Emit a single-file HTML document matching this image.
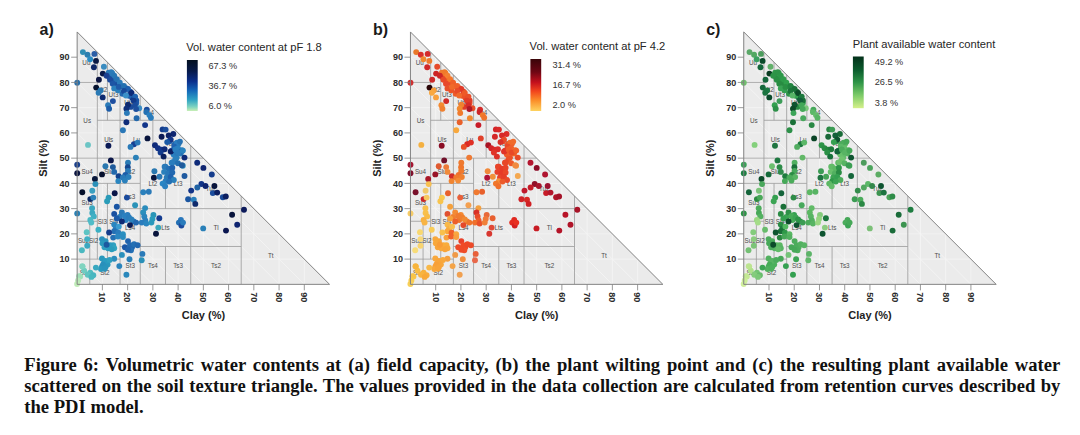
<!DOCTYPE html>
<html lang="en"><head><meta charset="utf-8"><title>Figure 6</title>
<style>
html,body{margin:0;padding:0;background:#fff;}
body{width:1080px;height:435px;overflow:hidden;position:relative;font-family:"Liberation Sans",Arial,sans-serif;}
svg{position:absolute;left:0;top:0;display:block;}
.cap{position:absolute;left:24.3px;top:353.7px;width:1036px;font-family:"Liberation Serif","Times New Roman",serif;font-weight:bold;font-size:18.6px;line-height:21px;color:#111;text-align:justify;white-space:nowrap;}
.cap .j{text-align:justify;text-align-last:justify;white-space:normal;}
</style></head><body>
<svg width="1080" height="435" viewBox="0 0 1080 435" font-family="'Liberation Sans', Arial, sans-serif">
<defs>
<clipPath id="tri"><polygon points="77.15,284.35 329.55,284.35 77.15,31.95"/></clipPath>
<linearGradient id="ga" x1="0" y1="0" x2="0" y2="1">
<stop offset="0" stop-color="#03101f"/><stop offset="0.22" stop-color="#071a4a"/><stop offset="0.42" stop-color="#0b2f8c"/><stop offset="0.6" stop-color="#1467b8"/><stop offset="0.78" stop-color="#2fa3c4"/><stop offset="0.92" stop-color="#7fd4c0"/><stop offset="1" stop-color="#c9efb5"/></linearGradient>
<linearGradient id="gb" x1="0" y1="0" x2="0" y2="1">
<stop offset="0" stop-color="#3a0509"/><stop offset="0.25" stop-color="#6e0614"/><stop offset="0.45" stop-color="#c4101d"/><stop offset="0.62" stop-color="#f2451d"/><stop offset="0.8" stop-color="#fb8f2a"/><stop offset="1" stop-color="#fed35f"/></linearGradient>
<linearGradient id="gc" x1="0" y1="0" x2="0" y2="1">
<stop offset="0" stop-color="#03301a"/><stop offset="0.25" stop-color="#0a5a2c"/><stop offset="0.5" stop-color="#2e9447"/><stop offset="0.75" stop-color="#7ccb68"/><stop offset="1" stop-color="#d5f08a"/></linearGradient>
</defs>
<rect width="1080" height="435" fill="#fff"/>
<g transform="translate(0.00,0)">
<polygon points="77.15,284.35 329.55,284.35 77.15,31.95" fill="#ebebeb"/>
<g clip-path="url(#tri)">
<path d="M102.39,284.35V57.19M77.15,259.11H304.31M77.15,259.11L102.39,284.35M127.63,284.35V82.43M77.15,233.87H279.07M77.15,233.87L127.63,284.35M152.87,284.35V107.67M77.15,208.63H253.83M77.15,208.63L152.87,284.35M178.11,284.35V132.91M77.15,183.39H228.59M77.15,183.39L178.11,284.35M203.35,284.35V158.15M77.15,158.15H203.35M77.15,158.15L203.35,284.35M228.59,284.35V183.39M77.15,132.91H178.11M77.15,132.91L228.59,284.35M253.83,284.35V208.63M77.15,107.67H152.87M77.15,107.67L253.83,284.35M279.07,284.35V233.87M77.15,82.43H127.63M77.15,82.43L279.07,284.35M304.31,284.35V259.11M77.15,57.19H102.39M77.15,57.19L304.31,284.35" stroke="#f5f5f5" stroke-width="0.8" fill="none"/>
<path d="M77.15,82.43L97.34,82.43M77.15,158.15L203.35,158.15M77.15,183.39L140.25,183.39M77.15,221.25L97.34,221.25M77.15,259.11L120.06,259.11M97.34,120.29L165.49,120.29M120.06,208.63L241.21,208.63M120.06,246.49L241.21,246.49M89.77,284.35L89.77,221.25M97.34,259.11L97.34,52.14M107.44,259.11L107.44,183.39M107.44,120.29L107.44,62.24M120.06,284.35L120.06,74.86M140.25,284.35L140.25,158.15M140.25,120.29L140.25,95.05M152.87,158.15L152.87,120.29M165.49,284.35L165.49,246.49M165.49,208.63L165.49,158.15M190.73,284.35L190.73,145.53M241.21,284.35L241.21,196.01" stroke="#9a9a9a" stroke-width="0.8" fill="none"/>
</g>
<g font-size="6.3" fill="#4d4d4d" text-anchor="middle">
<text x="83.5" y="274.5">Ss</text>
<text x="83.5" y="243.0">Su2</text>
<text x="93.6" y="243.0">Sl2</text>
<text x="87.2" y="205.1">Su3</text>
<text x="87.2" y="173.6">Su4</text>
<text x="87.2" y="123.1">Us</text>
<text x="86.4" y="64.6">Uu</text>
<text x="104.9" y="274.5">St2</text>
<text x="102.4" y="224.1">Sl3</text>
<text x="113.7" y="224.1">Sl4</text>
<text x="108.7" y="173.6">Slu</text>
<text x="108.7" y="142.0">Uls</text>
<text x="102.3" y="91.5">Ut2</text>
<text x="113.5" y="97.1">Ut3</text>
<text x="129.2" y="104.9">Ut4</text>
<text x="130.2" y="268.2">St3</text>
<text x="130.2" y="230.4">Ls4</text>
<text x="130.2" y="198.8">Ls3</text>
<text x="130.2" y="173.6">Ls2</text>
<text x="136.5" y="142.0">Lu</text>
<text x="148.7" y="114.7">Tu4</text>
<text x="170.5" y="145.8">Tu3</text>
<text x="152.9" y="186.2">Lt2</text>
<text x="178.1" y="186.2">Lt3</text>
<text x="165.5" y="230.4">Lts</text>
<text x="152.9" y="268.2">Ts4</text>
<text x="178.1" y="268.2">Ts3</text>
<text x="216.0" y="268.2">Ts2</text>
<text x="216.0" y="230.4">Tl</text>
<text x="211.0" y="191.1">Tu2</text>
<text x="270.7" y="257.7">Tt</text>
</g>
<g>
<circle cx="165.5" cy="166.8" r="2.95" fill="#2a7ab8"/>
<circle cx="182.8" cy="165.8" r="2.95" fill="#2a8cbc"/>
<circle cx="171.6" cy="162.7" r="2.95" fill="#2a84c0"/>
<circle cx="176.7" cy="157.6" r="2.95" fill="#2a80bc"/>
<circle cx="180.7" cy="153.5" r="2.95" fill="#2a7cbc"/>
<circle cx="173.6" cy="154.6" r="2.95" fill="#2a80c0"/>
<circle cx="178.7" cy="143.4" r="2.95" fill="#2a7ab8"/>
<circle cx="174.6" cy="144.4" r="2.95" fill="#2268b0"/>
<circle cx="169.5" cy="141.3" r="2.95" fill="#1f62ae"/>
<circle cx="132.0" cy="247.2" r="2.95" fill="#1f62ae"/>
<circle cx="102.0" cy="266.6" r="2.95" fill="#2a90bc"/>
<circle cx="107.6" cy="264.6" r="2.95" fill="#2a98bc"/>
<circle cx="104.0" cy="263.0" r="2.95" fill="#2a94bc"/>
<circle cx="113.2" cy="245.2" r="2.95" fill="#30a0c0"/>
<circle cx="105.6" cy="241.1" r="2.95" fill="#2a94bc"/>
<circle cx="108.1" cy="248.3" r="2.95" fill="#2a9cc0"/>
<circle cx="127.5" cy="214.9" r="2.95" fill="#2a7cbc"/>
<circle cx="133.6" cy="221.5" r="2.95" fill="#2470b4"/>
<circle cx="125.9" cy="220.0" r="2.95" fill="#2a80c0"/>
<circle cx="119.8" cy="217.0" r="2.95" fill="#2a7ab8"/>
<circle cx="130.8" cy="106.9" r="2.95" fill="#1a4c9c"/>
<circle cx="136.3" cy="102.9" r="2.95" fill="#1f62b0"/>
<circle cx="132.2" cy="97.8" r="2.95" fill="#123a8a"/>
<circle cx="136.3" cy="100.4" r="2.95" fill="#1a55a6"/>
<circle cx="129.0" cy="95.7" r="2.95" fill="#1e5fae"/>
<circle cx="122.4" cy="93.7" r="2.95" fill="#2268b0"/>
<circle cx="130.2" cy="91.7" r="2.95" fill="#1a4c9c"/>
<circle cx="125.9" cy="88.2" r="2.95" fill="#1f62ae"/>
<circle cx="118.0" cy="90.2" r="2.95" fill="#2a80bc"/>
<circle cx="121.3" cy="86.2" r="2.95" fill="#2470b0"/>
<circle cx="115.9" cy="83.1" r="2.95" fill="#1a4c9c"/>
<circle cx="113.5" cy="80.5" r="2.95" fill="#1f5aa8"/>
<circle cx="109.6" cy="77.4" r="2.95" fill="#1d55a5"/>
<circle cx="112.2" cy="73.3" r="2.95" fill="#2a80bc"/>
<circle cx="108.6" cy="72.6" r="2.95" fill="#2a7ab8"/>
<circle cx="82.9" cy="52.1" r="2.95" fill="#2e8db3"/>
<circle cx="87.5" cy="54.8" r="2.95" fill="#2b7fb0"/>
<circle cx="90.1" cy="59.3" r="2.95" fill="#2a8cc4"/>
<circle cx="94.4" cy="53.9" r="2.95" fill="#2c5ea6"/>
<circle cx="96.0" cy="60.9" r="2.95" fill="#0a1a44"/>
<circle cx="93.9" cy="67.2" r="2.95" fill="#0e2766"/>
<circle cx="103.9" cy="66.7" r="2.95" fill="#3a8cc0"/>
<circle cx="102.8" cy="73.6" r="2.95" fill="#0a1a4a"/>
<circle cx="111.2" cy="72.3" r="2.95" fill="#2a7ab8"/>
<circle cx="98.9" cy="79.8" r="2.95" fill="#0a1440"/>
<circle cx="77.2" cy="82.8" r="2.95" fill="#2a6fa8"/>
<circle cx="96.2" cy="87.6" r="2.95" fill="#06122e"/>
<circle cx="100.5" cy="90.4" r="2.95" fill="#2a78b0"/>
<circle cx="98.6" cy="92.7" r="2.95" fill="#2a7ab5"/>
<circle cx="102.7" cy="97.4" r="2.95" fill="#0e2a70"/>
<circle cx="112.9" cy="101.1" r="2.95" fill="#1f4fa0"/>
<circle cx="108.1" cy="105.2" r="2.95" fill="#2a7ab8"/>
<circle cx="109.1" cy="108.8" r="2.95" fill="#1c5ca8"/>
<circle cx="106.6" cy="75.7" r="2.95" fill="#1a3f90"/>
<circle cx="114.2" cy="75.7" r="2.95" fill="#2877b5"/>
<circle cx="110.1" cy="79.8" r="2.95" fill="#1b4a9c"/>
<circle cx="116.8" cy="79.2" r="2.95" fill="#2672b2"/>
<circle cx="112.7" cy="83.8" r="2.95" fill="#1d55a5"/>
<circle cx="119.8" cy="82.8" r="2.95" fill="#2a7ab8"/>
<circle cx="114.2" cy="88.4" r="2.95" fill="#2a80bc"/>
<circle cx="118.8" cy="86.9" r="2.95" fill="#1f5aa8"/>
<circle cx="123.9" cy="85.9" r="2.95" fill="#2470b0"/>
<circle cx="128.0" cy="88.9" r="2.95" fill="#1e5fae"/>
<circle cx="123.9" cy="91.0" r="2.95" fill="#174a9a"/>
<circle cx="131.5" cy="93.0" r="2.95" fill="#0d2a78"/>
<circle cx="125.9" cy="95.5" r="2.95" fill="#3a90c8"/>
<circle cx="135.1" cy="96.6" r="2.95" fill="#1f62b0"/>
<circle cx="133.6" cy="100.6" r="2.95" fill="#123a8a"/>
<circle cx="128.0" cy="104.7" r="2.95" fill="#0e2a70"/>
<circle cx="135.1" cy="105.2" r="2.95" fill="#1a4c9c"/>
<circle cx="126.4" cy="108.8" r="2.95" fill="#10307a"/>
<circle cx="139.2" cy="108.3" r="2.95" fill="#3a8cc4"/>
<circle cx="146.8" cy="109.6" r="2.95" fill="#1a4a9a"/>
<circle cx="126.9" cy="113.1" r="2.95" fill="#2a7ab8"/>
<circle cx="136.1" cy="109.0" r="2.95" fill="#1c4f9e"/>
<circle cx="146.3" cy="112.1" r="2.95" fill="#2470b2"/>
<circle cx="149.4" cy="115.1" r="2.95" fill="#2a80c0"/>
<circle cx="150.9" cy="117.7" r="2.95" fill="#2a7cbc"/>
<circle cx="136.6" cy="118.2" r="2.95" fill="#2268ac"/>
<circle cx="126.4" cy="122.3" r="2.95" fill="#0f2c78"/>
<circle cx="145.1" cy="125.1" r="2.95" fill="#12358a"/>
<circle cx="122.9" cy="130.2" r="2.95" fill="#2a78b8"/>
<circle cx="162.6" cy="129.4" r="2.95" fill="#143c8c"/>
<circle cx="165.6" cy="129.6" r="2.95" fill="#1a4c9c"/>
<circle cx="173.3" cy="134.0" r="2.95" fill="#0e2570"/>
<circle cx="168.7" cy="135.5" r="2.95" fill="#0c2166"/>
<circle cx="161.6" cy="136.7" r="2.95" fill="#0b1a55"/>
<circle cx="147.5" cy="138.4" r="2.95" fill="#08143c"/>
<circle cx="170.7" cy="139.6" r="2.95" fill="#123488"/>
<circle cx="167.2" cy="142.1" r="2.95" fill="#1a5aa6"/>
<circle cx="88.0" cy="144.9" r="2.95" fill="#6cc5c5"/>
<circle cx="108.4" cy="145.7" r="2.95" fill="#0b1a55"/>
<circle cx="133.9" cy="144.2" r="2.95" fill="#153f94"/>
<circle cx="130.5" cy="146.9" r="2.95" fill="#2a7ab8"/>
<circle cx="137.6" cy="142.6" r="2.95" fill="#2a78b8"/>
<circle cx="155.0" cy="145.2" r="2.95" fill="#0e2a78"/>
<circle cx="158.0" cy="148.2" r="2.95" fill="#113084"/>
<circle cx="161.6" cy="149.8" r="2.95" fill="#12358a"/>
<circle cx="164.6" cy="149.2" r="2.95" fill="#0e2a78"/>
<circle cx="176.9" cy="142.6" r="2.95" fill="#2a7cc0"/>
<circle cx="179.9" cy="141.6" r="2.95" fill="#2672b4"/>
<circle cx="174.3" cy="146.7" r="2.95" fill="#1f62b0"/>
<circle cx="177.9" cy="148.2" r="2.95" fill="#2a80c0"/>
<circle cx="171.8" cy="150.8" r="2.95" fill="#1a55a6"/>
<circle cx="181.9" cy="150.3" r="2.95" fill="#2a7ab8"/>
<circle cx="135.9" cy="157.6" r="2.95" fill="#2a80b8"/>
<circle cx="110.9" cy="160.4" r="2.95" fill="#0b1648"/>
<circle cx="77.2" cy="164.8" r="2.95" fill="#1a3f8c"/>
<circle cx="128.0" cy="162.7" r="2.95" fill="#2a7ab4"/>
<circle cx="105.4" cy="166.3" r="2.95" fill="#2a78b0"/>
<circle cx="112.9" cy="167.1" r="2.95" fill="#1e5a9c"/>
<circle cx="127.8" cy="167.3" r="2.95" fill="#14478f"/>
<circle cx="114.2" cy="171.9" r="2.95" fill="#2268ac"/>
<circle cx="128.0" cy="170.9" r="2.95" fill="#2a7ab8"/>
<circle cx="77.2" cy="173.2" r="2.95" fill="#0a1440"/>
<circle cx="102.0" cy="174.4" r="2.95" fill="#06102e"/>
<circle cx="118.6" cy="176.3" r="2.95" fill="#10408c"/>
<circle cx="125.4" cy="175.0" r="2.95" fill="#1d5eaa"/>
<circle cx="122.9" cy="177.5" r="2.95" fill="#2a7ab8"/>
<circle cx="128.5" cy="177.0" r="2.95" fill="#2a80bc"/>
<circle cx="124.9" cy="180.6" r="2.95" fill="#2a80bc"/>
<circle cx="118.3" cy="181.1" r="2.95" fill="#2a86c0"/>
<circle cx="94.9" cy="179.0" r="2.95" fill="#07163a"/>
<circle cx="95.4" cy="184.1" r="2.95" fill="#2a90b8"/>
<circle cx="92.3" cy="190.7" r="2.95" fill="#3aa0c0"/>
<circle cx="82.3" cy="192.3" r="2.95" fill="#050f2a"/>
<circle cx="114.7" cy="193.3" r="2.95" fill="#0b1648"/>
<circle cx="154.4" cy="171.2" r="2.95" fill="#2a78b0"/>
<circle cx="153.9" cy="177.7" r="2.95" fill="#08143c"/>
<circle cx="159.5" cy="176.7" r="2.95" fill="#2a78b4"/>
<circle cx="164.6" cy="166.8" r="2.95" fill="#2a7ab8"/>
<circle cx="168.7" cy="168.8" r="2.95" fill="#2470b4"/>
<circle cx="172.3" cy="167.8" r="2.95" fill="#1f62ae"/>
<circle cx="164.1" cy="171.9" r="2.95" fill="#2a80bc"/>
<circle cx="168.2" cy="173.4" r="2.95" fill="#2a78b8"/>
<circle cx="172.3" cy="172.4" r="2.95" fill="#2268b0"/>
<circle cx="166.7" cy="177.5" r="2.95" fill="#2a7ab8"/>
<circle cx="170.7" cy="177.0" r="2.95" fill="#1f62ae"/>
<circle cx="173.8" cy="180.0" r="2.95" fill="#2a80bc"/>
<circle cx="165.6" cy="181.1" r="2.95" fill="#2a7cbc"/>
<circle cx="162.6" cy="183.6" r="2.95" fill="#2a86c4"/>
<circle cx="165.1" cy="186.2" r="2.95" fill="#2a80c0"/>
<circle cx="169.2" cy="181.6" r="2.95" fill="#2470b4"/>
<circle cx="160.6" cy="152.5" r="2.95" fill="#123a8c"/>
<circle cx="163.6" cy="156.6" r="2.95" fill="#0b1f5c"/>
<circle cx="170.7" cy="151.5" r="2.95" fill="#0c2166"/>
<circle cx="176.9" cy="153.1" r="2.95" fill="#2a7ab8"/>
<circle cx="180.9" cy="152.0" r="2.95" fill="#2470b4"/>
<circle cx="184.5" cy="157.6" r="2.95" fill="#0e2a78"/>
<circle cx="175.3" cy="159.2" r="2.95" fill="#2a80bc"/>
<circle cx="172.8" cy="162.2" r="2.95" fill="#2a7cbc"/>
<circle cx="177.9" cy="163.2" r="2.95" fill="#2470b0"/>
<circle cx="181.9" cy="165.3" r="2.95" fill="#1f5a9c"/>
<circle cx="184.5" cy="176.0" r="2.95" fill="#1f5aa0"/>
<circle cx="143.2" cy="192.3" r="2.95" fill="#2a80bc"/>
<circle cx="148.8" cy="191.8" r="2.95" fill="#2a7ab8"/>
<circle cx="90.3" cy="199.1" r="2.95" fill="#0d2a66"/>
<circle cx="93.3" cy="197.6" r="2.95" fill="#2a80b8"/>
<circle cx="126.9" cy="197.6" r="2.95" fill="#1a4a9c"/>
<circle cx="108.6" cy="197.6" r="2.95" fill="#2a9ab8"/>
<circle cx="107.1" cy="201.2" r="2.95" fill="#2a9cb8"/>
<circle cx="135.1" cy="205.2" r="2.95" fill="#2a92b8"/>
<circle cx="116.8" cy="206.8" r="2.95" fill="#1a55a4"/>
<circle cx="145.1" cy="208.1" r="2.95" fill="#2a8cbc"/>
<circle cx="92.1" cy="208.3" r="2.95" fill="#3aa8c0"/>
<circle cx="77.2" cy="213.4" r="2.95" fill="#2a80b4"/>
<circle cx="92.3" cy="212.9" r="2.95" fill="#3aa8c0"/>
<circle cx="93.8" cy="216.4" r="2.95" fill="#40b0c4"/>
<circle cx="90.3" cy="220.0" r="2.95" fill="#4ab8c4"/>
<circle cx="91.3" cy="222.6" r="2.95" fill="#50bcc8"/>
<circle cx="114.2" cy="213.9" r="2.95" fill="#1a50a0"/>
<circle cx="121.9" cy="212.4" r="2.95" fill="#2a7ab8"/>
<circle cx="124.9" cy="215.9" r="2.95" fill="#2a80c0"/>
<circle cx="129.0" cy="217.5" r="2.95" fill="#2a7cbc"/>
<circle cx="116.8" cy="218.5" r="2.95" fill="#1c5aa8"/>
<circle cx="131.5" cy="219.5" r="2.95" fill="#2a80bc"/>
<circle cx="121.9" cy="221.5" r="2.95" fill="#0e2a74"/>
<circle cx="136.1" cy="222.6" r="2.95" fill="#2268b0"/>
<circle cx="130.0" cy="225.1" r="2.95" fill="#0a1a55"/>
<circle cx="143.2" cy="212.4" r="2.95" fill="#2a90bc"/>
<circle cx="144.3" cy="216.4" r="2.95" fill="#2a86bc"/>
<circle cx="145.3" cy="220.5" r="2.95" fill="#2a80bc"/>
<circle cx="141.7" cy="222.6" r="2.95" fill="#2a7cbc"/>
<circle cx="146.3" cy="223.6" r="2.95" fill="#2a86c0"/>
<circle cx="153.4" cy="214.9" r="2.95" fill="#2a96b8"/>
<circle cx="152.4" cy="219.0" r="2.95" fill="#2a9cbc"/>
<circle cx="151.4" cy="222.6" r="2.95" fill="#2a98bc"/>
<circle cx="159.3" cy="218.3" r="2.95" fill="#143c90"/>
<circle cx="158.3" cy="227.6" r="2.95" fill="#3aa8bc"/>
<circle cx="156.0" cy="233.8" r="2.95" fill="#08143c"/>
<circle cx="180.9" cy="220.0" r="2.95" fill="#2a78bc"/>
<circle cx="178.9" cy="222.6" r="2.95" fill="#2470b4"/>
<circle cx="181.4" cy="225.6" r="2.95" fill="#1a4a9c"/>
<circle cx="183.0" cy="222.6" r="2.95" fill="#2a7cbc"/>
<circle cx="114.2" cy="224.6" r="2.95" fill="#2a86c0"/>
<circle cx="115.7" cy="228.7" r="2.95" fill="#2a80c0"/>
<circle cx="118.8" cy="226.6" r="2.95" fill="#3a9cd0"/>
<circle cx="114.2" cy="231.2" r="2.95" fill="#2470b4"/>
<circle cx="109.1" cy="232.5" r="2.95" fill="#143c8c"/>
<circle cx="118.3" cy="232.7" r="2.95" fill="#2a7cbc"/>
<circle cx="122.9" cy="234.3" r="2.95" fill="#2a90c0"/>
<circle cx="98.4" cy="229.7" r="2.95" fill="#3ab0c4"/>
<circle cx="86.7" cy="232.2" r="2.95" fill="#5cc4c4"/>
<circle cx="113.2" cy="237.6" r="2.95" fill="#2470b4"/>
<circle cx="117.8" cy="236.5" r="2.95" fill="#2a86c0"/>
<circle cx="122.9" cy="237.1" r="2.95" fill="#2a8cc0"/>
<circle cx="102.0" cy="239.1" r="2.95" fill="#2a90bc"/>
<circle cx="87.2" cy="239.1" r="2.95" fill="#40b0c4"/>
<circle cx="87.2" cy="245.7" r="2.95" fill="#3aa8c0"/>
<circle cx="81.9" cy="250.3" r="2.95" fill="#4ab8c0"/>
<circle cx="102.5" cy="243.2" r="2.95" fill="#2a98bc"/>
<circle cx="104.5" cy="247.2" r="2.95" fill="#30a0c0"/>
<circle cx="110.1" cy="245.2" r="2.95" fill="#2a9cc0"/>
<circle cx="114.2" cy="248.3" r="2.95" fill="#30a4c0"/>
<circle cx="111.7" cy="249.3" r="2.95" fill="#2a9cbc"/>
<circle cx="106.6" cy="244.7" r="2.95" fill="#1c5aa0"/>
<circle cx="128.0" cy="241.1" r="2.95" fill="#1f62ae"/>
<circle cx="124.9" cy="247.2" r="2.95" fill="#1a55a6"/>
<circle cx="130.0" cy="245.2" r="2.95" fill="#2268b0"/>
<circle cx="134.1" cy="244.2" r="2.95" fill="#2470b4"/>
<circle cx="137.6" cy="245.2" r="2.95" fill="#2268b0"/>
<circle cx="131.0" cy="250.3" r="2.95" fill="#2470b4"/>
<circle cx="128.0" cy="249.8" r="2.95" fill="#1f62ae"/>
<circle cx="142.4" cy="253.9" r="2.95" fill="#2a7ab8"/>
<circle cx="121.9" cy="254.9" r="2.95" fill="#2a90bc"/>
<circle cx="129.5" cy="259.3" r="2.95" fill="#2a80b8"/>
<circle cx="141.7" cy="260.3" r="2.95" fill="#2a90b8"/>
<circle cx="114.2" cy="258.8" r="2.95" fill="#2a8cbc"/>
<circle cx="102.0" cy="258.4" r="2.95" fill="#2a98bc"/>
<circle cx="105.6" cy="261.0" r="2.95" fill="#2a9cc0"/>
<circle cx="109.6" cy="260.0" r="2.95" fill="#30a0c0"/>
<circle cx="103.0" cy="264.6" r="2.95" fill="#2a90bc"/>
<circle cx="105.6" cy="267.1" r="2.95" fill="#2a94bc"/>
<circle cx="101.0" cy="269.1" r="2.95" fill="#2a98bc"/>
<circle cx="95.9" cy="267.6" r="2.95" fill="#38a8c0"/>
<circle cx="119.3" cy="266.1" r="2.95" fill="#2a84bc"/>
<circle cx="126.4" cy="274.7" r="2.95" fill="#2a88bc"/>
<circle cx="82.6" cy="266.6" r="2.95" fill="#7cd4c0"/>
<circle cx="84.2" cy="270.7" r="2.95" fill="#70ccc0"/>
<circle cx="90.3" cy="272.7" r="2.95" fill="#50bcc0"/>
<circle cx="93.3" cy="275.2" r="2.95" fill="#48b4c0"/>
<circle cx="87.7" cy="274.7" r="2.95" fill="#60c4c0"/>
<circle cx="79.1" cy="276.3" r="2.95" fill="#a0e0b8"/>
<circle cx="82.2" cy="266.2" r="2.95" fill="#80d4c0"/>
<circle cx="80.2" cy="276.4" r="2.95" fill="#a0e0b8"/>
<circle cx="78.1" cy="280.4" r="2.95" fill="#b8e8b8"/>
<circle cx="77.1" cy="284.0" r="2.95" fill="#c0ecb8"/>
<circle cx="91.4" cy="276.9" r="2.95" fill="#48b8c0"/>
<circle cx="104.6" cy="268.7" r="2.95" fill="#2a94bc"/>
<circle cx="175.3" cy="149.5" r="2.95" fill="#2a80c0"/>
<circle cx="178.3" cy="152.6" r="2.95" fill="#2a7cbc"/>
<circle cx="182.9" cy="150.6" r="2.95" fill="#2a84c0"/>
<circle cx="197.2" cy="162.8" r="2.95" fill="#0e2a78"/>
<circle cx="203.4" cy="167.9" r="2.95" fill="#0e2470"/>
<circle cx="211.8" cy="174.5" r="2.95" fill="#143c8c"/>
<circle cx="201.4" cy="184.0" r="2.95" fill="#123488"/>
<circle cx="205.5" cy="186.0" r="2.95" fill="#0e2470"/>
<circle cx="197.3" cy="187.5" r="2.95" fill="#1f62a4"/>
<circle cx="214.4" cy="186.0" r="2.95" fill="#08143c"/>
<circle cx="191.2" cy="190.6" r="2.95" fill="#123488"/>
<circle cx="212.8" cy="193.1" r="2.95" fill="#1a4c9c"/>
<circle cx="217.2" cy="192.6" r="2.95" fill="#0c1f60"/>
<circle cx="222.8" cy="197.2" r="2.95" fill="#1a4a9a"/>
<circle cx="225.8" cy="196.5" r="2.95" fill="#0c1f60"/>
<circle cx="188.1" cy="199.2" r="2.95" fill="#1a55a0"/>
<circle cx="193.8" cy="199.8" r="2.95" fill="#2a80bc"/>
<circle cx="195.3" cy="203.9" r="2.95" fill="#0e2a6c"/>
<circle cx="244.0" cy="209.8" r="2.95" fill="#0c1a5a"/>
<circle cx="232.1" cy="214.8" r="2.95" fill="#08143c"/>
<circle cx="237.2" cy="224.7" r="2.95" fill="#0e2470"/>
<circle cx="226.0" cy="230.6" r="2.95" fill="#0a1650"/>
<circle cx="203.2" cy="228.4" r="2.95" fill="#2a80b8"/>
</g>
<polygon points="77.15,284.35 329.55,284.35 77.15,31.95" fill="none" stroke="#828282" stroke-width="1.0" stroke-linejoin="round"/>
<path d="M102.39,284.35v6M77.15,259.11h-6M127.63,284.35v6M77.15,233.87h-6M152.87,284.35v6M77.15,208.63h-6M178.11,284.35v6M77.15,183.39h-6M203.35,284.35v6M77.15,158.15h-6M228.59,284.35v6M77.15,132.91h-6M253.83,284.35v6M77.15,107.67h-6M279.07,284.35v6M77.15,82.43h-6M304.31,284.35v6M77.15,57.19h-6" stroke="#808080" stroke-width="0.8" fill="none"/>
<g font-size="9" font-weight="bold" fill="#2b2b2b">
<text x="69.6" y="262.3" text-anchor="end">10</text>
<text transform="translate(99.2,292.2) rotate(90)">10</text>
<text x="69.6" y="237.1" text-anchor="end">20</text>
<text transform="translate(124.4,292.2) rotate(90)">20</text>
<text x="69.6" y="211.8" text-anchor="end">30</text>
<text transform="translate(149.7,292.2) rotate(90)">30</text>
<text x="69.6" y="186.6" text-anchor="end">40</text>
<text transform="translate(174.9,292.2) rotate(90)">40</text>
<text x="69.6" y="161.4" text-anchor="end">50</text>
<text transform="translate(200.2,292.2) rotate(90)">50</text>
<text x="69.6" y="136.1" text-anchor="end">60</text>
<text transform="translate(225.4,292.2) rotate(90)">60</text>
<text x="69.6" y="110.9" text-anchor="end">70</text>
<text transform="translate(250.6,292.2) rotate(90)">70</text>
<text x="69.6" y="85.6" text-anchor="end">80</text>
<text transform="translate(275.9,292.2) rotate(90)">80</text>
<text x="69.6" y="60.4" text-anchor="end">90</text>
<text transform="translate(301.1,292.2) rotate(90)">90</text>
</g>
<text font-size="11" font-weight="bold" fill="#222" text-anchor="middle" transform="translate(47.3,158.2) rotate(-90)">Silt (%)</text>
<text font-size="11" font-weight="bold" fill="#222" text-anchor="middle" x="203.4" y="318.7">Clay (%)</text>
<text font-size="16" font-weight="bold" fill="#1a1a1a" x="39.6" y="35.2">a)</text>
</g>
<g transform="translate(333.30,0)">
<polygon points="77.15,284.35 329.55,284.35 77.15,31.95" fill="#ebebeb"/>
<g clip-path="url(#tri)">
<path d="M102.39,284.35V57.19M77.15,259.11H304.31M77.15,259.11L102.39,284.35M127.63,284.35V82.43M77.15,233.87H279.07M77.15,233.87L127.63,284.35M152.87,284.35V107.67M77.15,208.63H253.83M77.15,208.63L152.87,284.35M178.11,284.35V132.91M77.15,183.39H228.59M77.15,183.39L178.11,284.35M203.35,284.35V158.15M77.15,158.15H203.35M77.15,158.15L203.35,284.35M228.59,284.35V183.39M77.15,132.91H178.11M77.15,132.91L228.59,284.35M253.83,284.35V208.63M77.15,107.67H152.87M77.15,107.67L253.83,284.35M279.07,284.35V233.87M77.15,82.43H127.63M77.15,82.43L279.07,284.35M304.31,284.35V259.11M77.15,57.19H102.39M77.15,57.19L304.31,284.35" stroke="#f5f5f5" stroke-width="0.8" fill="none"/>
<path d="M77.15,82.43L97.34,82.43M77.15,158.15L203.35,158.15M77.15,183.39L140.25,183.39M77.15,221.25L97.34,221.25M77.15,259.11L120.06,259.11M97.34,120.29L165.49,120.29M120.06,208.63L241.21,208.63M120.06,246.49L241.21,246.49M89.77,284.35L89.77,221.25M97.34,259.11L97.34,52.14M107.44,259.11L107.44,183.39M107.44,120.29L107.44,62.24M120.06,284.35L120.06,74.86M140.25,284.35L140.25,158.15M140.25,120.29L140.25,95.05M152.87,158.15L152.87,120.29M165.49,284.35L165.49,246.49M165.49,208.63L165.49,158.15M190.73,284.35L190.73,145.53M241.21,284.35L241.21,196.01" stroke="#9a9a9a" stroke-width="0.8" fill="none"/>
</g>
<g font-size="6.3" fill="#4d4d4d" text-anchor="middle">
<text x="83.5" y="274.5">Ss</text>
<text x="83.5" y="243.0">Su2</text>
<text x="93.6" y="243.0">Sl2</text>
<text x="87.2" y="205.1">Su3</text>
<text x="87.2" y="173.6">Su4</text>
<text x="87.2" y="123.1">Us</text>
<text x="86.4" y="64.6">Uu</text>
<text x="104.9" y="274.5">St2</text>
<text x="102.4" y="224.1">Sl3</text>
<text x="113.7" y="224.1">Sl4</text>
<text x="108.7" y="173.6">Slu</text>
<text x="108.7" y="142.0">Uls</text>
<text x="102.3" y="91.5">Ut2</text>
<text x="113.5" y="97.1">Ut3</text>
<text x="129.2" y="104.9">Ut4</text>
<text x="130.2" y="268.2">St3</text>
<text x="130.2" y="230.4">Ls4</text>
<text x="130.2" y="198.8">Ls3</text>
<text x="130.2" y="173.6">Ls2</text>
<text x="136.5" y="142.0">Lu</text>
<text x="148.7" y="114.7">Tu4</text>
<text x="170.5" y="145.8">Tu3</text>
<text x="152.9" y="186.2">Lt2</text>
<text x="178.1" y="186.2">Lt3</text>
<text x="165.5" y="230.4">Lts</text>
<text x="152.9" y="268.2">Ts4</text>
<text x="178.1" y="268.2">Ts3</text>
<text x="216.0" y="268.2">Ts2</text>
<text x="216.0" y="230.4">Tl</text>
<text x="211.0" y="191.1">Tu2</text>
<text x="270.7" y="257.7">Tt</text>
</g>
<g>
<circle cx="165.5" cy="166.8" r="2.95" fill="#e8442a"/>
<circle cx="182.8" cy="165.8" r="2.95" fill="#f0903a"/>
<circle cx="171.6" cy="162.7" r="2.95" fill="#e84a28"/>
<circle cx="176.7" cy="157.6" r="2.95" fill="#ec5228"/>
<circle cx="180.7" cy="153.5" r="2.95" fill="#f0682a"/>
<circle cx="173.6" cy="154.6" r="2.95" fill="#ee5a2a"/>
<circle cx="178.7" cy="143.4" r="2.95" fill="#f0602a"/>
<circle cx="174.6" cy="144.4" r="2.95" fill="#ec5228"/>
<circle cx="169.5" cy="141.3" r="2.95" fill="#e84428"/>
<circle cx="132.0" cy="247.2" r="2.95" fill="#f04a26"/>
<circle cx="102.0" cy="266.6" r="2.95" fill="#f8a038"/>
<circle cx="107.6" cy="264.6" r="2.95" fill="#f8a83c"/>
<circle cx="104.0" cy="263.0" r="2.95" fill="#f8a43a"/>
<circle cx="113.2" cy="245.2" r="2.95" fill="#f8ac3c"/>
<circle cx="105.6" cy="241.1" r="2.95" fill="#f8a43a"/>
<circle cx="108.1" cy="248.3" r="2.95" fill="#f8a83c"/>
<circle cx="127.5" cy="214.9" r="2.95" fill="#f48a34"/>
<circle cx="133.6" cy="221.5" r="2.95" fill="#f07a30"/>
<circle cx="125.9" cy="220.0" r="2.95" fill="#ee742c"/>
<circle cx="119.8" cy="217.0" r="2.95" fill="#f08030"/>
<circle cx="130.8" cy="106.9" r="2.95" fill="#e03a28"/>
<circle cx="136.3" cy="102.9" r="2.95" fill="#e8502a"/>
<circle cx="132.2" cy="97.8" r="2.95" fill="#e84a28"/>
<circle cx="136.3" cy="100.4" r="2.95" fill="#e03c28"/>
<circle cx="129.0" cy="95.7" r="2.95" fill="#ec5228"/>
<circle cx="122.4" cy="93.7" r="2.95" fill="#ee5a28"/>
<circle cx="130.2" cy="91.7" r="2.95" fill="#e44028"/>
<circle cx="125.9" cy="88.2" r="2.95" fill="#e84a28"/>
<circle cx="118.0" cy="90.2" r="2.95" fill="#ec5228"/>
<circle cx="121.3" cy="86.2" r="2.95" fill="#f0682a"/>
<circle cx="115.9" cy="83.1" r="2.95" fill="#e8482a"/>
<circle cx="113.5" cy="80.5" r="2.95" fill="#ee5a28"/>
<circle cx="109.6" cy="77.4" r="2.95" fill="#e84a28"/>
<circle cx="112.2" cy="73.3" r="2.95" fill="#f4802e"/>
<circle cx="108.6" cy="72.6" r="2.95" fill="#f07a2c"/>
<circle cx="82.9" cy="52.1" r="2.95" fill="#e8782a"/>
<circle cx="87.5" cy="54.8" r="2.95" fill="#d8302a"/>
<circle cx="90.1" cy="59.3" r="2.95" fill="#f08a2e"/>
<circle cx="94.4" cy="53.9" r="2.95" fill="#d42a2a"/>
<circle cx="96.0" cy="60.9" r="2.95" fill="#ee7a2c"/>
<circle cx="93.9" cy="67.2" r="2.95" fill="#d02828"/>
<circle cx="103.9" cy="66.7" r="2.95" fill="#e64a2a"/>
<circle cx="102.8" cy="73.6" r="2.95" fill="#cc2424"/>
<circle cx="111.3" cy="72.3" r="2.95" fill="#f07a2a"/>
<circle cx="98.9" cy="79.8" r="2.95" fill="#cc2a2a"/>
<circle cx="77.2" cy="82.8" r="2.95" fill="#d03030"/>
<circle cx="96.2" cy="87.6" r="2.95" fill="#2a0508"/>
<circle cx="100.5" cy="90.4" r="2.95" fill="#f8a03c"/>
<circle cx="98.6" cy="92.7" r="2.95" fill="#f9a840"/>
<circle cx="102.7" cy="97.4" r="2.95" fill="#f8a03c"/>
<circle cx="112.9" cy="101.1" r="2.95" fill="#d02a28"/>
<circle cx="108.1" cy="105.2" r="2.95" fill="#f58a30"/>
<circle cx="109.1" cy="108.8" r="2.95" fill="#f08030"/>
<circle cx="106.6" cy="75.7" r="2.95" fill="#cc2626"/>
<circle cx="114.2" cy="75.7" r="2.95" fill="#f58030"/>
<circle cx="110.1" cy="79.8" r="2.95" fill="#e84a28"/>
<circle cx="116.8" cy="79.2" r="2.95" fill="#f4782c"/>
<circle cx="112.7" cy="83.8" r="2.95" fill="#e8482a"/>
<circle cx="119.8" cy="82.8" r="2.95" fill="#f06028"/>
<circle cx="114.2" cy="88.4" r="2.95" fill="#e85028"/>
<circle cx="118.8" cy="86.9" r="2.95" fill="#f06a2a"/>
<circle cx="123.9" cy="85.9" r="2.95" fill="#f0602a"/>
<circle cx="128.0" cy="88.9" r="2.95" fill="#e03a28"/>
<circle cx="123.9" cy="91.0" r="2.95" fill="#e84a28"/>
<circle cx="131.5" cy="93.0" r="2.95" fill="#ee5a28"/>
<circle cx="125.9" cy="95.5" r="2.95" fill="#f06a2c"/>
<circle cx="135.1" cy="96.6" r="2.95" fill="#e8502a"/>
<circle cx="133.6" cy="100.6" r="2.95" fill="#e03c28"/>
<circle cx="128.0" cy="104.7" r="2.95" fill="#f08030"/>
<circle cx="135.1" cy="105.2" r="2.95" fill="#d42c2a"/>
<circle cx="126.4" cy="108.8" r="2.95" fill="#f08a30"/>
<circle cx="139.2" cy="108.3" r="2.95" fill="#e8502a"/>
<circle cx="146.8" cy="109.6" r="2.95" fill="#d42c2a"/>
<circle cx="126.9" cy="113.1" r="2.95" fill="#f07a2c"/>
<circle cx="136.1" cy="109.0" r="2.95" fill="#b01828"/>
<circle cx="146.3" cy="112.1" r="2.95" fill="#cc2428"/>
<circle cx="149.4" cy="115.1" r="2.95" fill="#f07a2c"/>
<circle cx="150.9" cy="117.7" r="2.95" fill="#ee742c"/>
<circle cx="136.6" cy="118.2" r="2.95" fill="#f08a30"/>
<circle cx="126.4" cy="122.3" r="2.95" fill="#e8602a"/>
<circle cx="145.1" cy="125.1" r="2.95" fill="#c81c28"/>
<circle cx="122.9" cy="130.2" r="2.95" fill="#f8a83c"/>
<circle cx="162.6" cy="129.4" r="2.95" fill="#d42428"/>
<circle cx="165.6" cy="129.6" r="2.95" fill="#d82a28"/>
<circle cx="173.3" cy="134.0" r="2.95" fill="#dc2c28"/>
<circle cx="168.7" cy="135.5" r="2.95" fill="#d82828"/>
<circle cx="161.6" cy="136.7" r="2.95" fill="#d42828"/>
<circle cx="147.5" cy="138.4" r="2.95" fill="#e0402a"/>
<circle cx="170.7" cy="139.6" r="2.95" fill="#e84a28"/>
<circle cx="167.2" cy="142.1" r="2.95" fill="#d83028"/>
<circle cx="88.0" cy="144.9" r="2.95" fill="#f4b040"/>
<circle cx="108.4" cy="145.7" r="2.95" fill="#8a0c24"/>
<circle cx="133.9" cy="144.2" r="2.95" fill="#dc2a24"/>
<circle cx="130.5" cy="146.9" r="2.95" fill="#e85028"/>
<circle cx="137.6" cy="142.6" r="2.95" fill="#e03024"/>
<circle cx="155.0" cy="145.2" r="2.95" fill="#a81424"/>
<circle cx="158.0" cy="148.2" r="2.95" fill="#d42428"/>
<circle cx="161.6" cy="149.8" r="2.95" fill="#d82828"/>
<circle cx="164.6" cy="149.2" r="2.95" fill="#dc2c28"/>
<circle cx="176.9" cy="142.6" r="2.95" fill="#f0682a"/>
<circle cx="179.9" cy="141.6" r="2.95" fill="#f06a2a"/>
<circle cx="174.3" cy="146.7" r="2.95" fill="#e84a28"/>
<circle cx="177.9" cy="148.2" r="2.95" fill="#f0602a"/>
<circle cx="171.8" cy="150.8" r="2.95" fill="#e03a28"/>
<circle cx="181.9" cy="150.3" r="2.95" fill="#f0702c"/>
<circle cx="135.9" cy="157.6" r="2.95" fill="#ee7a34"/>
<circle cx="110.9" cy="160.4" r="2.95" fill="#70102a"/>
<circle cx="77.2" cy="164.8" r="2.95" fill="#a41430"/>
<circle cx="128.0" cy="162.7" r="2.95" fill="#ee7a30"/>
<circle cx="105.4" cy="166.3" r="2.95" fill="#e05a30"/>
<circle cx="112.9" cy="167.1" r="2.95" fill="#ec7a3a"/>
<circle cx="127.8" cy="167.3" r="2.95" fill="#f0762c"/>
<circle cx="114.2" cy="171.9" r="2.95" fill="#f08a3a"/>
<circle cx="128.0" cy="170.9" r="2.95" fill="#f07a2c"/>
<circle cx="77.2" cy="173.2" r="2.95" fill="#80102c"/>
<circle cx="102.0" cy="174.4" r="2.95" fill="#9a1428"/>
<circle cx="118.6" cy="176.3" r="2.95" fill="#d02c28"/>
<circle cx="125.4" cy="175.0" r="2.95" fill="#f0702c"/>
<circle cx="122.9" cy="177.5" r="2.95" fill="#f07a2e"/>
<circle cx="128.5" cy="177.0" r="2.95" fill="#f0802e"/>
<circle cx="124.9" cy="180.6" r="2.95" fill="#f48a34"/>
<circle cx="118.3" cy="181.1" r="2.95" fill="#f08430"/>
<circle cx="94.9" cy="179.0" r="2.95" fill="#a81828"/>
<circle cx="95.4" cy="184.1" r="2.95" fill="#f8c050"/>
<circle cx="92.3" cy="190.7" r="2.95" fill="#f0c868"/>
<circle cx="82.3" cy="192.3" r="2.95" fill="#78102a"/>
<circle cx="114.7" cy="193.3" r="2.95" fill="#e8602c"/>
<circle cx="154.4" cy="171.2" r="2.95" fill="#f0883a"/>
<circle cx="153.9" cy="177.7" r="2.95" fill="#b01238"/>
<circle cx="159.5" cy="176.7" r="2.95" fill="#f0903a"/>
<circle cx="164.6" cy="166.8" r="2.95" fill="#e8442a"/>
<circle cx="168.7" cy="168.8" r="2.95" fill="#e63c28"/>
<circle cx="172.3" cy="167.8" r="2.95" fill="#e84428"/>
<circle cx="164.1" cy="171.9" r="2.95" fill="#e8402a"/>
<circle cx="168.2" cy="173.4" r="2.95" fill="#e63a28"/>
<circle cx="172.3" cy="172.4" r="2.95" fill="#ea4628"/>
<circle cx="166.7" cy="177.5" r="2.95" fill="#e8442a"/>
<circle cx="170.7" cy="177.0" r="2.95" fill="#e63e28"/>
<circle cx="173.8" cy="180.0" r="2.95" fill="#e84a2a"/>
<circle cx="165.6" cy="181.1" r="2.95" fill="#f4903a"/>
<circle cx="162.6" cy="183.6" r="2.95" fill="#f0782c"/>
<circle cx="165.1" cy="186.2" r="2.95" fill="#f0702c"/>
<circle cx="169.2" cy="181.6" r="2.95" fill="#ec5a2a"/>
<circle cx="160.6" cy="152.5" r="2.95" fill="#e03428"/>
<circle cx="163.6" cy="156.6" r="2.95" fill="#dc3028"/>
<circle cx="170.7" cy="151.5" r="2.95" fill="#e03428"/>
<circle cx="176.9" cy="153.1" r="2.95" fill="#f0602a"/>
<circle cx="180.9" cy="152.0" r="2.95" fill="#ee5a2a"/>
<circle cx="184.5" cy="157.6" r="2.95" fill="#e84a28"/>
<circle cx="175.3" cy="159.2" r="2.95" fill="#ec5228"/>
<circle cx="172.8" cy="162.2" r="2.95" fill="#e84828"/>
<circle cx="177.9" cy="163.2" r="2.95" fill="#ee5a2a"/>
<circle cx="181.9" cy="165.3" r="2.95" fill="#f08a40"/>
<circle cx="184.5" cy="176.0" r="2.95" fill="#f4a850"/>
<circle cx="143.2" cy="192.3" r="2.95" fill="#f07a30"/>
<circle cx="148.8" cy="191.8" r="2.95" fill="#e8602c"/>
<circle cx="90.3" cy="199.1" r="2.95" fill="#c82428"/>
<circle cx="93.3" cy="197.6" r="2.95" fill="#f6c860"/>
<circle cx="126.9" cy="197.6" r="2.95" fill="#e8603a"/>
<circle cx="108.6" cy="197.6" r="2.95" fill="#f8c850"/>
<circle cx="107.1" cy="201.2" r="2.95" fill="#f8c44c"/>
<circle cx="135.1" cy="205.2" r="2.95" fill="#f4a050"/>
<circle cx="116.8" cy="206.8" r="2.95" fill="#f4a03c"/>
<circle cx="145.1" cy="208.1" r="2.95" fill="#f4a040"/>
<circle cx="92.1" cy="208.3" r="2.95" fill="#f8c04c"/>
<circle cx="77.2" cy="213.4" r="2.95" fill="#f6cc68"/>
<circle cx="92.3" cy="212.9" r="2.95" fill="#f8c04c"/>
<circle cx="93.8" cy="216.4" r="2.95" fill="#f8bc48"/>
<circle cx="90.3" cy="220.0" r="2.95" fill="#f8b040"/>
<circle cx="91.3" cy="222.6" r="2.95" fill="#f8b444"/>
<circle cx="114.2" cy="213.9" r="2.95" fill="#e05030"/>
<circle cx="121.9" cy="212.4" r="2.95" fill="#f48a34"/>
<circle cx="124.9" cy="215.9" r="2.95" fill="#f07a30"/>
<circle cx="129.0" cy="217.5" r="2.95" fill="#f0802e"/>
<circle cx="116.8" cy="218.5" r="2.95" fill="#f8a03c"/>
<circle cx="131.5" cy="219.5" r="2.95" fill="#f08a34"/>
<circle cx="121.9" cy="221.5" r="2.95" fill="#ec602a"/>
<circle cx="136.1" cy="222.6" r="2.95" fill="#ee742c"/>
<circle cx="130.0" cy="225.1" r="2.95" fill="#e4482a"/>
<circle cx="143.2" cy="212.4" r="2.95" fill="#d83028"/>
<circle cx="144.3" cy="216.4" r="2.95" fill="#e84a2a"/>
<circle cx="145.3" cy="220.5" r="2.95" fill="#ec5a2a"/>
<circle cx="141.7" cy="222.6" r="2.95" fill="#f0702c"/>
<circle cx="146.3" cy="223.6" r="2.95" fill="#e8502a"/>
<circle cx="153.4" cy="214.9" r="2.95" fill="#e8683a"/>
<circle cx="152.4" cy="219.0" r="2.95" fill="#f0783a"/>
<circle cx="151.4" cy="222.6" r="2.95" fill="#f0803a"/>
<circle cx="159.3" cy="218.3" r="2.95" fill="#e86030"/>
<circle cx="158.3" cy="227.6" r="2.95" fill="#e04a38"/>
<circle cx="156.0" cy="233.8" r="2.95" fill="#d83830"/>
<circle cx="180.9" cy="220.0" r="2.95" fill="#e02820"/>
<circle cx="178.9" cy="222.6" r="2.95" fill="#e42c20"/>
<circle cx="181.4" cy="225.6" r="2.95" fill="#d42020"/>
<circle cx="183.0" cy="222.6" r="2.95" fill="#e83020"/>
<circle cx="114.2" cy="224.6" r="2.95" fill="#f8b848"/>
<circle cx="115.7" cy="228.7" r="2.95" fill="#f8b040"/>
<circle cx="118.8" cy="226.6" r="2.95" fill="#f8c050"/>
<circle cx="114.2" cy="231.2" r="2.95" fill="#f8a83c"/>
<circle cx="109.1" cy="232.5" r="2.95" fill="#f8c04c"/>
<circle cx="118.3" cy="232.7" r="2.95" fill="#f0602a"/>
<circle cx="122.9" cy="234.3" r="2.95" fill="#f8a840"/>
<circle cx="98.4" cy="229.7" r="2.95" fill="#f8cc58"/>
<circle cx="86.7" cy="232.2" r="2.95" fill="#f8d870"/>
<circle cx="113.2" cy="237.6" r="2.95" fill="#f8a03c"/>
<circle cx="117.8" cy="236.5" r="2.95" fill="#f0602a"/>
<circle cx="122.9" cy="237.1" r="2.95" fill="#f8a040"/>
<circle cx="102.0" cy="239.1" r="2.95" fill="#f8a83c"/>
<circle cx="87.2" cy="239.1" r="2.95" fill="#f8d878"/>
<circle cx="87.2" cy="245.7" r="2.95" fill="#f8d470"/>
<circle cx="81.9" cy="250.3" r="2.95" fill="#f8dc78"/>
<circle cx="102.5" cy="243.2" r="2.95" fill="#f8a83c"/>
<circle cx="104.5" cy="247.2" r="2.95" fill="#f8a43a"/>
<circle cx="110.1" cy="245.2" r="2.95" fill="#f8ac3c"/>
<circle cx="114.2" cy="248.3" r="2.95" fill="#f8a83c"/>
<circle cx="111.7" cy="249.3" r="2.95" fill="#f8a43a"/>
<circle cx="106.6" cy="244.7" r="2.95" fill="#f89c38"/>
<circle cx="128.0" cy="241.1" r="2.95" fill="#e8402a"/>
<circle cx="124.9" cy="247.2" r="2.95" fill="#ee4a28"/>
<circle cx="130.0" cy="245.2" r="2.95" fill="#f04a26"/>
<circle cx="134.1" cy="244.2" r="2.95" fill="#ee4826"/>
<circle cx="137.6" cy="245.2" r="2.95" fill="#ec4a28"/>
<circle cx="131.0" cy="250.3" r="2.95" fill="#f04e28"/>
<circle cx="128.0" cy="249.8" r="2.95" fill="#ee4a28"/>
<circle cx="142.4" cy="253.9" r="2.95" fill="#e8603a"/>
<circle cx="121.9" cy="254.9" r="2.95" fill="#f09a48"/>
<circle cx="129.5" cy="259.3" r="2.95" fill="#f09040"/>
<circle cx="141.7" cy="260.3" r="2.95" fill="#e8684a"/>
<circle cx="114.2" cy="258.8" r="2.95" fill="#f4a040"/>
<circle cx="102.0" cy="258.4" r="2.95" fill="#f8a83c"/>
<circle cx="105.6" cy="261.0" r="2.95" fill="#f8a43a"/>
<circle cx="109.6" cy="260.0" r="2.95" fill="#f8a83c"/>
<circle cx="103.0" cy="264.6" r="2.95" fill="#f8a038"/>
<circle cx="105.6" cy="267.1" r="2.95" fill="#f8a43a"/>
<circle cx="101.0" cy="269.1" r="2.95" fill="#f8a83c"/>
<circle cx="95.9" cy="267.6" r="2.95" fill="#f8b848"/>
<circle cx="119.3" cy="266.1" r="2.95" fill="#f4a448"/>
<circle cx="126.4" cy="274.7" r="2.95" fill="#f0a050"/>
<circle cx="82.6" cy="266.6" r="2.95" fill="#f8b840"/>
<circle cx="84.2" cy="270.7" r="2.95" fill="#f8bc44"/>
<circle cx="90.3" cy="272.7" r="2.95" fill="#f8b03c"/>
<circle cx="93.3" cy="275.2" r="2.95" fill="#f8ac3c"/>
<circle cx="87.7" cy="274.7" r="2.95" fill="#f8b440"/>
<circle cx="79.1" cy="276.3" r="2.95" fill="#f8c850"/>
<circle cx="82.2" cy="266.2" r="2.95" fill="#f8b43c"/>
<circle cx="80.2" cy="276.4" r="2.95" fill="#f8c448"/>
<circle cx="78.1" cy="280.4" r="2.95" fill="#f8cc50"/>
<circle cx="77.1" cy="284.0" r="2.95" fill="#f8d058"/>
<circle cx="91.4" cy="276.9" r="2.95" fill="#f8a838"/>
<circle cx="104.6" cy="268.7" r="2.95" fill="#f8a43a"/>
<circle cx="175.3" cy="149.5" r="2.95" fill="#ee5a2a"/>
<circle cx="178.3" cy="152.6" r="2.95" fill="#e84a28"/>
<circle cx="182.9" cy="150.6" r="2.95" fill="#f0602a"/>
<circle cx="197.2" cy="162.8" r="2.95" fill="#b41630"/>
<circle cx="203.4" cy="167.9" r="2.95" fill="#8c0c28"/>
<circle cx="211.8" cy="174.5" r="2.95" fill="#b01430"/>
<circle cx="201.4" cy="184.0" r="2.95" fill="#901028"/>
<circle cx="205.5" cy="186.0" r="2.95" fill="#a8142c"/>
<circle cx="197.3" cy="187.5" r="2.95" fill="#c41c28"/>
<circle cx="214.4" cy="186.0" r="2.95" fill="#9c1230"/>
<circle cx="191.2" cy="190.6" r="2.95" fill="#c01a2c"/>
<circle cx="212.8" cy="193.1" r="2.95" fill="#c81c28"/>
<circle cx="217.2" cy="192.6" r="2.95" fill="#b4162c"/>
<circle cx="222.8" cy="197.2" r="2.95" fill="#b01428"/>
<circle cx="225.8" cy="196.5" r="2.95" fill="#a41228"/>
<circle cx="188.1" cy="199.2" r="2.95" fill="#d02428"/>
<circle cx="193.7" cy="199.8" r="2.95" fill="#d82824"/>
<circle cx="195.3" cy="203.9" r="2.95" fill="#d02024"/>
<circle cx="244.0" cy="209.8" r="2.95" fill="#a81428"/>
<circle cx="232.1" cy="214.8" r="2.95" fill="#b81428"/>
<circle cx="237.2" cy="224.7" r="2.95" fill="#b01428"/>
<circle cx="226.0" cy="230.6" r="2.95" fill="#b41428"/>
<circle cx="203.2" cy="228.4" r="2.95" fill="#c81c24"/>
</g>
<polygon points="77.15,284.35 329.55,284.35 77.15,31.95" fill="none" stroke="#828282" stroke-width="1.0" stroke-linejoin="round"/>
<path d="M102.39,284.35v6M77.15,259.11h-6M127.63,284.35v6M77.15,233.87h-6M152.87,284.35v6M77.15,208.63h-6M178.11,284.35v6M77.15,183.39h-6M203.35,284.35v6M77.15,158.15h-6M228.59,284.35v6M77.15,132.91h-6M253.83,284.35v6M77.15,107.67h-6M279.07,284.35v6M77.15,82.43h-6M304.31,284.35v6M77.15,57.19h-6" stroke="#808080" stroke-width="0.8" fill="none"/>
<g font-size="9" font-weight="bold" fill="#2b2b2b">
<text x="69.6" y="262.3" text-anchor="end">10</text>
<text transform="translate(99.2,292.2) rotate(90)">10</text>
<text x="69.6" y="237.1" text-anchor="end">20</text>
<text transform="translate(124.4,292.2) rotate(90)">20</text>
<text x="69.6" y="211.8" text-anchor="end">30</text>
<text transform="translate(149.7,292.2) rotate(90)">30</text>
<text x="69.6" y="186.6" text-anchor="end">40</text>
<text transform="translate(174.9,292.2) rotate(90)">40</text>
<text x="69.6" y="161.4" text-anchor="end">50</text>
<text transform="translate(200.2,292.2) rotate(90)">50</text>
<text x="69.6" y="136.1" text-anchor="end">60</text>
<text transform="translate(225.4,292.2) rotate(90)">60</text>
<text x="69.6" y="110.9" text-anchor="end">70</text>
<text transform="translate(250.6,292.2) rotate(90)">70</text>
<text x="69.6" y="85.6" text-anchor="end">80</text>
<text transform="translate(275.9,292.2) rotate(90)">80</text>
<text x="69.6" y="60.4" text-anchor="end">90</text>
<text transform="translate(301.1,292.2) rotate(90)">90</text>
</g>
<text font-size="11" font-weight="bold" fill="#222" text-anchor="middle" transform="translate(47.3,158.2) rotate(-90)">Silt (%)</text>
<text font-size="11" font-weight="bold" fill="#222" text-anchor="middle" x="203.4" y="318.7">Clay (%)</text>
<text font-size="16" font-weight="bold" fill="#1a1a1a" x="39.6" y="35.2">b)</text>
</g>
<g transform="translate(666.60,0)">
<polygon points="77.15,284.35 329.55,284.35 77.15,31.95" fill="#ebebeb"/>
<g clip-path="url(#tri)">
<path d="M102.39,284.35V57.19M77.15,259.11H304.31M77.15,259.11L102.39,284.35M127.63,284.35V82.43M77.15,233.87H279.07M77.15,233.87L127.63,284.35M152.87,284.35V107.67M77.15,208.63H253.83M77.15,208.63L152.87,284.35M178.11,284.35V132.91M77.15,183.39H228.59M77.15,183.39L178.11,284.35M203.35,284.35V158.15M77.15,158.15H203.35M77.15,158.15L203.35,284.35M228.59,284.35V183.39M77.15,132.91H178.11M77.15,132.91L228.59,284.35M253.83,284.35V208.63M77.15,107.67H152.87M77.15,107.67L253.83,284.35M279.07,284.35V233.87M77.15,82.43H127.63M77.15,82.43L279.07,284.35M304.31,284.35V259.11M77.15,57.19H102.39M77.15,57.19L304.31,284.35" stroke="#f5f5f5" stroke-width="0.8" fill="none"/>
<path d="M77.15,82.43L97.34,82.43M77.15,158.15L203.35,158.15M77.15,183.39L140.25,183.39M77.15,221.25L97.34,221.25M77.15,259.11L120.06,259.11M97.34,120.29L165.49,120.29M120.06,208.63L241.21,208.63M120.06,246.49L241.21,246.49M89.77,284.35L89.77,221.25M97.34,259.11L97.34,52.14M107.44,259.11L107.44,183.39M107.44,120.29L107.44,62.24M120.06,284.35L120.06,74.86M140.25,284.35L140.25,158.15M140.25,120.29L140.25,95.05M152.87,158.15L152.87,120.29M165.49,284.35L165.49,246.49M165.49,208.63L165.49,158.15M190.73,284.35L190.73,145.53M241.21,284.35L241.21,196.01" stroke="#9a9a9a" stroke-width="0.8" fill="none"/>
</g>
<g font-size="6.3" fill="#4d4d4d" text-anchor="middle">
<text x="83.5" y="274.5">Ss</text>
<text x="83.5" y="243.0">Su2</text>
<text x="93.6" y="243.0">Sl2</text>
<text x="87.2" y="205.1">Su3</text>
<text x="87.2" y="173.6">Su4</text>
<text x="87.2" y="123.1">Us</text>
<text x="86.4" y="64.6">Uu</text>
<text x="104.9" y="274.5">St2</text>
<text x="102.4" y="224.1">Sl3</text>
<text x="113.7" y="224.1">Sl4</text>
<text x="108.7" y="173.6">Slu</text>
<text x="108.7" y="142.0">Uls</text>
<text x="102.3" y="91.5">Ut2</text>
<text x="113.5" y="97.1">Ut3</text>
<text x="129.2" y="104.9">Ut4</text>
<text x="130.2" y="268.2">St3</text>
<text x="130.2" y="230.4">Ls4</text>
<text x="130.2" y="198.8">Ls3</text>
<text x="130.2" y="173.6">Ls2</text>
<text x="136.5" y="142.0">Lu</text>
<text x="148.7" y="114.7">Tu4</text>
<text x="170.5" y="145.8">Tu3</text>
<text x="152.9" y="186.2">Lt2</text>
<text x="178.1" y="186.2">Lt3</text>
<text x="165.5" y="230.4">Lts</text>
<text x="152.9" y="268.2">Ts4</text>
<text x="178.1" y="268.2">Ts3</text>
<text x="216.0" y="268.2">Ts2</text>
<text x="216.0" y="230.4">Tl</text>
<text x="211.0" y="191.1">Tu2</text>
<text x="270.7" y="257.7">Tt</text>
</g>
<g>
<circle cx="165.5" cy="166.8" r="2.95" fill="#62bc68"/>
<circle cx="182.8" cy="165.8" r="2.95" fill="#3ca454"/>
<circle cx="171.6" cy="162.7" r="2.95" fill="#5cb864"/>
<circle cx="176.7" cy="157.6" r="2.95" fill="#64bc6c"/>
<circle cx="180.7" cy="153.5" r="2.95" fill="#58b464"/>
<circle cx="173.6" cy="154.6" r="2.95" fill="#68c06c"/>
<circle cx="178.7" cy="143.4" r="2.95" fill="#5cb864"/>
<circle cx="174.6" cy="144.4" r="2.95" fill="#4cac5c"/>
<circle cx="169.5" cy="141.3" r="2.95" fill="#2e9448"/>
<circle cx="132.0" cy="247.2" r="2.95" fill="#52b060"/>
<circle cx="102.0" cy="266.6" r="2.95" fill="#46ac58"/>
<circle cx="107.6" cy="264.6" r="2.95" fill="#4cb05c"/>
<circle cx="104.0" cy="263.0" r="2.95" fill="#52b060"/>
<circle cx="113.2" cy="245.2" r="2.95" fill="#5cb864"/>
<circle cx="105.6" cy="241.1" r="2.95" fill="#4cac5c"/>
<circle cx="108.1" cy="248.3" r="2.95" fill="#58b464"/>
<circle cx="127.5" cy="214.9" r="2.95" fill="#34a050"/>
<circle cx="133.6" cy="221.5" r="2.95" fill="#2e9448"/>
<circle cx="125.9" cy="220.0" r="2.95" fill="#46ac58"/>
<circle cx="119.8" cy="217.0" r="2.95" fill="#3ca454"/>
<circle cx="130.8" cy="106.9" r="2.95" fill="#2a8c44"/>
<circle cx="136.3" cy="102.9" r="2.95" fill="#3ca454"/>
<circle cx="132.2" cy="97.8" r="2.95" fill="#14603a"/>
<circle cx="136.3" cy="100.4" r="2.95" fill="#1a7038"/>
<circle cx="129.0" cy="95.7" r="2.95" fill="#34a050"/>
<circle cx="122.4" cy="93.7" r="2.95" fill="#2e9448"/>
<circle cx="130.2" cy="91.7" r="2.95" fill="#1c743a"/>
<circle cx="125.9" cy="88.2" r="2.95" fill="#228440"/>
<circle cx="118.0" cy="90.2" r="2.95" fill="#34a050"/>
<circle cx="121.3" cy="86.2" r="2.95" fill="#2c9848"/>
<circle cx="115.9" cy="83.1" r="2.95" fill="#288c42"/>
<circle cx="113.5" cy="80.5" r="2.95" fill="#2e9448"/>
<circle cx="109.6" cy="77.4" r="2.95" fill="#2a9044"/>
<circle cx="112.2" cy="73.3" r="2.95" fill="#30a04c"/>
<circle cx="108.6" cy="72.6" r="2.95" fill="#2e9848"/>
<circle cx="82.9" cy="52.1" r="2.95" fill="#5aa868"/>
<circle cx="87.5" cy="54.8" r="2.95" fill="#52a862"/>
<circle cx="90.1" cy="59.3" r="2.95" fill="#3aa060"/>
<circle cx="94.4" cy="53.9" r="2.95" fill="#4c9c5c"/>
<circle cx="96.0" cy="60.9" r="2.95" fill="#0a4a2a"/>
<circle cx="93.9" cy="67.2" r="2.95" fill="#14663c"/>
<circle cx="103.9" cy="66.7" r="2.95" fill="#62b06a"/>
<circle cx="102.8" cy="73.6" r="2.95" fill="#0a3c22"/>
<circle cx="111.3" cy="72.3" r="2.95" fill="#2e9448"/>
<circle cx="98.9" cy="79.8" r="2.95" fill="#14663c"/>
<circle cx="77.2" cy="82.8" r="2.95" fill="#72c070"/>
<circle cx="96.2" cy="87.6" r="2.95" fill="#14683c"/>
<circle cx="100.5" cy="90.4" r="2.95" fill="#1c7a44"/>
<circle cx="98.6" cy="92.7" r="2.95" fill="#1a7440"/>
<circle cx="102.7" cy="97.4" r="2.95" fill="#0a4a2a"/>
<circle cx="112.9" cy="101.1" r="2.95" fill="#3c9c58"/>
<circle cx="108.1" cy="105.2" r="2.95" fill="#34a050"/>
<circle cx="109.1" cy="108.8" r="2.95" fill="#2c9048"/>
<circle cx="106.6" cy="75.7" r="2.95" fill="#2e9448"/>
<circle cx="114.2" cy="75.7" r="2.95" fill="#2c9848"/>
<circle cx="110.1" cy="79.8" r="2.95" fill="#2a9044"/>
<circle cx="116.8" cy="79.2" r="2.95" fill="#2e9c4a"/>
<circle cx="112.7" cy="83.8" r="2.95" fill="#288c42"/>
<circle cx="119.8" cy="82.8" r="2.95" fill="#30a04c"/>
<circle cx="114.2" cy="88.4" r="2.95" fill="#3aa454"/>
<circle cx="118.8" cy="86.9" r="2.95" fill="#2a9044"/>
<circle cx="123.9" cy="85.9" r="2.95" fill="#228440"/>
<circle cx="128.0" cy="88.9" r="2.95" fill="#1a7038"/>
<circle cx="123.9" cy="91.0" r="2.95" fill="#1c743a"/>
<circle cx="131.5" cy="93.0" r="2.95" fill="#0c4a28"/>
<circle cx="125.9" cy="95.5" r="2.95" fill="#58b468"/>
<circle cx="135.1" cy="96.6" r="2.95" fill="#1e7a3e"/>
<circle cx="133.6" cy="100.6" r="2.95" fill="#14603a"/>
<circle cx="128.0" cy="104.7" r="2.95" fill="#0e5430"/>
<circle cx="135.1" cy="105.2" r="2.95" fill="#42a858"/>
<circle cx="126.4" cy="108.8" r="2.95" fill="#0c4a28"/>
<circle cx="139.2" cy="108.3" r="2.95" fill="#7cc87c"/>
<circle cx="146.8" cy="109.6" r="2.95" fill="#46a85a"/>
<circle cx="126.9" cy="113.1" r="2.95" fill="#3ca458"/>
<circle cx="136.1" cy="109.0" r="2.95" fill="#46a85a"/>
<circle cx="146.3" cy="112.1" r="2.95" fill="#5cb868"/>
<circle cx="149.4" cy="115.1" r="2.95" fill="#64bc6c"/>
<circle cx="150.9" cy="117.7" r="2.95" fill="#58b464"/>
<circle cx="136.6" cy="118.2" r="2.95" fill="#48a85c"/>
<circle cx="126.4" cy="122.3" r="2.95" fill="#1a7038"/>
<circle cx="145.1" cy="125.1" r="2.95" fill="#2a8844"/>
<circle cx="122.9" cy="130.2" r="2.95" fill="#2c9048"/>
<circle cx="162.6" cy="129.4" r="2.95" fill="#2a8844"/>
<circle cx="165.6" cy="129.6" r="2.95" fill="#3c9c54"/>
<circle cx="173.3" cy="134.0" r="2.95" fill="#1a6c38"/>
<circle cx="168.7" cy="135.5" r="2.95" fill="#14603a"/>
<circle cx="161.6" cy="136.7" r="2.95" fill="#1a6838"/>
<circle cx="147.5" cy="138.4" r="2.95" fill="#0a4426"/>
<circle cx="170.7" cy="139.6" r="2.95" fill="#0e5430"/>
<circle cx="167.2" cy="142.1" r="2.95" fill="#34a050"/>
<circle cx="88.0" cy="144.9" r="2.95" fill="#84d07c"/>
<circle cx="108.4" cy="145.7" r="2.95" fill="#1e7440"/>
<circle cx="133.9" cy="144.2" r="2.95" fill="#1c7a3e"/>
<circle cx="130.5" cy="146.9" r="2.95" fill="#52ac60"/>
<circle cx="137.6" cy="142.6" r="2.95" fill="#5cb868"/>
<circle cx="155.0" cy="145.2" r="2.95" fill="#2e9448"/>
<circle cx="158.0" cy="148.2" r="2.95" fill="#2a8c44"/>
<circle cx="161.6" cy="149.8" r="2.95" fill="#26843e"/>
<circle cx="164.6" cy="149.2" r="2.95" fill="#1e7a3c"/>
<circle cx="176.9" cy="142.6" r="2.95" fill="#4cac5c"/>
<circle cx="179.9" cy="141.6" r="2.95" fill="#46a858"/>
<circle cx="174.3" cy="146.7" r="2.95" fill="#5cb868"/>
<circle cx="177.9" cy="148.2" r="2.95" fill="#64bc6c"/>
<circle cx="171.8" cy="150.8" r="2.95" fill="#1c7a3c"/>
<circle cx="181.9" cy="150.3" r="2.95" fill="#58b464"/>
<circle cx="135.9" cy="157.6" r="2.95" fill="#62b868"/>
<circle cx="110.9" cy="160.4" r="2.95" fill="#1e7840"/>
<circle cx="77.2" cy="164.8" r="2.95" fill="#3ca058"/>
<circle cx="128.0" cy="162.7" r="2.95" fill="#52b060"/>
<circle cx="105.4" cy="166.3" r="2.95" fill="#6cc070"/>
<circle cx="112.9" cy="167.1" r="2.95" fill="#2c8c48"/>
<circle cx="127.8" cy="167.3" r="2.95" fill="#1a7038"/>
<circle cx="114.2" cy="171.9" r="2.95" fill="#308c4c"/>
<circle cx="128.0" cy="170.9" r="2.95" fill="#48a85c"/>
<circle cx="77.2" cy="173.2" r="2.95" fill="#1e8044"/>
<circle cx="102.0" cy="174.4" r="2.95" fill="#146a3a"/>
<circle cx="118.6" cy="176.3" r="2.95" fill="#1e7c3e"/>
<circle cx="125.4" cy="175.0" r="2.95" fill="#2a8c44"/>
<circle cx="122.9" cy="177.5" r="2.95" fill="#4cac5c"/>
<circle cx="128.5" cy="177.0" r="2.95" fill="#58b464"/>
<circle cx="124.9" cy="180.6" r="2.95" fill="#4aac5a"/>
<circle cx="118.3" cy="181.1" r="2.95" fill="#46a858"/>
<circle cx="94.9" cy="179.0" r="2.95" fill="#0c4c2a"/>
<circle cx="95.4" cy="184.1" r="2.95" fill="#4aa85c"/>
<circle cx="92.3" cy="190.7" r="2.95" fill="#7cc47a"/>
<circle cx="82.3" cy="192.3" r="2.95" fill="#14643a"/>
<circle cx="114.7" cy="193.3" r="2.95" fill="#14643a"/>
<circle cx="154.4" cy="171.2" r="2.95" fill="#3c9c54"/>
<circle cx="153.9" cy="177.7" r="2.95" fill="#1e7440"/>
<circle cx="159.5" cy="176.7" r="2.95" fill="#46a458"/>
<circle cx="164.6" cy="166.8" r="2.95" fill="#62bc68"/>
<circle cx="168.7" cy="168.8" r="2.95" fill="#5cb864"/>
<circle cx="172.3" cy="167.8" r="2.95" fill="#2e9448"/>
<circle cx="164.1" cy="171.9" r="2.95" fill="#68c06c"/>
<circle cx="168.2" cy="173.4" r="2.95" fill="#52b060"/>
<circle cx="172.3" cy="172.4" r="2.95" fill="#2a8c44"/>
<circle cx="166.7" cy="177.5" r="2.95" fill="#3ca454"/>
<circle cx="170.7" cy="177.0" r="2.95" fill="#34a050"/>
<circle cx="173.8" cy="180.0" r="2.95" fill="#4cac5c"/>
<circle cx="165.6" cy="181.1" r="2.95" fill="#2e9848"/>
<circle cx="162.6" cy="183.6" r="2.95" fill="#5cb864"/>
<circle cx="165.1" cy="186.2" r="2.95" fill="#64bc6a"/>
<circle cx="169.2" cy="181.6" r="2.95" fill="#3ca454"/>
<circle cx="160.6" cy="152.5" r="2.95" fill="#2a9046"/>
<circle cx="163.6" cy="156.6" r="2.95" fill="#16703a"/>
<circle cx="170.7" cy="151.5" r="2.95" fill="#12623a"/>
<circle cx="176.9" cy="153.1" r="2.95" fill="#68c06c"/>
<circle cx="180.9" cy="152.0" r="2.95" fill="#52b060"/>
<circle cx="184.5" cy="157.6" r="2.95" fill="#0e5430"/>
<circle cx="175.3" cy="159.2" r="2.95" fill="#70c470"/>
<circle cx="172.8" cy="162.2" r="2.95" fill="#6cc06c"/>
<circle cx="177.9" cy="163.2" r="2.95" fill="#58b464"/>
<circle cx="181.9" cy="165.3" r="2.95" fill="#3c9c54"/>
<circle cx="184.5" cy="176.0" r="2.95" fill="#14663a"/>
<circle cx="143.2" cy="192.3" r="2.95" fill="#5cb864"/>
<circle cx="148.8" cy="191.8" r="2.95" fill="#58b464"/>
<circle cx="90.3" cy="199.1" r="2.95" fill="#2e8c44"/>
<circle cx="93.3" cy="197.6" r="2.95" fill="#4aa858"/>
<circle cx="126.9" cy="197.6" r="2.95" fill="#2e8c48"/>
<circle cx="108.6" cy="197.6" r="2.95" fill="#34a050"/>
<circle cx="107.1" cy="201.2" r="2.95" fill="#3ca454"/>
<circle cx="135.1" cy="205.2" r="2.95" fill="#48a85c"/>
<circle cx="116.8" cy="206.8" r="2.95" fill="#1a7038"/>
<circle cx="145.1" cy="208.1" r="2.95" fill="#62bc68"/>
<circle cx="92.1" cy="208.3" r="2.95" fill="#4cac5c"/>
<circle cx="77.2" cy="213.4" r="2.95" fill="#2e9448"/>
<circle cx="92.3" cy="212.9" r="2.95" fill="#46a858"/>
<circle cx="93.8" cy="216.4" r="2.95" fill="#52b060"/>
<circle cx="90.3" cy="220.0" r="2.95" fill="#9cd884"/>
<circle cx="91.3" cy="222.6" r="2.95" fill="#a4dc88"/>
<circle cx="114.2" cy="213.9" r="2.95" fill="#2a8c44"/>
<circle cx="121.9" cy="212.4" r="2.95" fill="#2e9048"/>
<circle cx="124.9" cy="215.9" r="2.95" fill="#46ac58"/>
<circle cx="129.0" cy="217.5" r="2.95" fill="#3ca454"/>
<circle cx="116.8" cy="218.5" r="2.95" fill="#34a050"/>
<circle cx="131.5" cy="219.5" r="2.95" fill="#2e9448"/>
<circle cx="121.9" cy="221.5" r="2.95" fill="#0c4c2a"/>
<circle cx="136.1" cy="222.6" r="2.95" fill="#3c9c54"/>
<circle cx="130.0" cy="225.1" r="2.95" fill="#0e5430"/>
<circle cx="143.2" cy="212.4" r="2.95" fill="#5cb864"/>
<circle cx="144.3" cy="216.4" r="2.95" fill="#58b464"/>
<circle cx="145.3" cy="220.5" r="2.95" fill="#52b060"/>
<circle cx="141.7" cy="222.6" r="2.95" fill="#4cac5c"/>
<circle cx="146.3" cy="223.6" r="2.95" fill="#58b464"/>
<circle cx="153.4" cy="214.9" r="2.95" fill="#84cc7c"/>
<circle cx="152.4" cy="219.0" r="2.95" fill="#94d480"/>
<circle cx="151.4" cy="222.6" r="2.95" fill="#9cd884"/>
<circle cx="159.3" cy="218.3" r="2.95" fill="#1c783e"/>
<circle cx="158.3" cy="227.6" r="2.95" fill="#8ccc80"/>
<circle cx="156.0" cy="233.8" r="2.95" fill="#0e5430"/>
<circle cx="180.9" cy="220.0" r="2.95" fill="#46a858"/>
<circle cx="178.9" cy="222.6" r="2.95" fill="#4cac5c"/>
<circle cx="181.4" cy="225.6" r="2.95" fill="#3ca454"/>
<circle cx="183.0" cy="222.6" r="2.95" fill="#46a858"/>
<circle cx="114.2" cy="224.6" r="2.95" fill="#2a8c44"/>
<circle cx="115.7" cy="228.7" r="2.95" fill="#1e7c3e"/>
<circle cx="118.8" cy="226.6" r="2.95" fill="#52b860"/>
<circle cx="114.2" cy="231.2" r="2.95" fill="#1a7038"/>
<circle cx="109.1" cy="232.5" r="2.95" fill="#0e5430"/>
<circle cx="118.3" cy="232.7" r="2.95" fill="#2e9848"/>
<circle cx="122.9" cy="234.3" r="2.95" fill="#58b864"/>
<circle cx="98.4" cy="229.7" r="2.95" fill="#68bc6c"/>
<circle cx="86.7" cy="232.2" r="2.95" fill="#84cc7c"/>
<circle cx="113.2" cy="237.6" r="2.95" fill="#2a8440"/>
<circle cx="117.8" cy="236.5" r="2.95" fill="#46a858"/>
<circle cx="122.9" cy="237.1" r="2.95" fill="#52b060"/>
<circle cx="102.0" cy="239.1" r="2.95" fill="#4cac5c"/>
<circle cx="87.2" cy="239.1" r="2.95" fill="#8ccc80"/>
<circle cx="87.2" cy="245.7" r="2.95" fill="#7cc478"/>
<circle cx="81.9" cy="250.3" r="2.95" fill="#74c074"/>
<circle cx="102.5" cy="243.2" r="2.95" fill="#46a858"/>
<circle cx="104.5" cy="247.2" r="2.95" fill="#4cac5c"/>
<circle cx="110.1" cy="245.2" r="2.95" fill="#5cb864"/>
<circle cx="114.2" cy="248.3" r="2.95" fill="#58b464"/>
<circle cx="111.7" cy="249.3" r="2.95" fill="#62bc68"/>
<circle cx="106.6" cy="244.7" r="2.95" fill="#0c4c2a"/>
<circle cx="128.0" cy="241.1" r="2.95" fill="#4cac5c"/>
<circle cx="124.9" cy="247.2" r="2.95" fill="#46a858"/>
<circle cx="130.0" cy="245.2" r="2.95" fill="#4cac5c"/>
<circle cx="134.1" cy="244.2" r="2.95" fill="#52b060"/>
<circle cx="137.6" cy="245.2" r="2.95" fill="#58b464"/>
<circle cx="131.0" cy="250.3" r="2.95" fill="#4cac5c"/>
<circle cx="128.0" cy="249.8" r="2.95" fill="#46a858"/>
<circle cx="142.4" cy="253.9" r="2.95" fill="#5cb468"/>
<circle cx="121.9" cy="254.9" r="2.95" fill="#74c478"/>
<circle cx="129.5" cy="259.3" r="2.95" fill="#3ca454"/>
<circle cx="141.7" cy="260.3" r="2.95" fill="#62b86c"/>
<circle cx="114.2" cy="258.8" r="2.95" fill="#46a858"/>
<circle cx="102.0" cy="258.4" r="2.95" fill="#52b060"/>
<circle cx="105.6" cy="261.0" r="2.95" fill="#58b464"/>
<circle cx="109.6" cy="260.0" r="2.95" fill="#4cac5c"/>
<circle cx="103.0" cy="264.6" r="2.95" fill="#46ac58"/>
<circle cx="105.6" cy="267.1" r="2.95" fill="#4cb05c"/>
<circle cx="101.0" cy="269.1" r="2.95" fill="#52b060"/>
<circle cx="95.9" cy="267.6" r="2.95" fill="#3ca454"/>
<circle cx="119.3" cy="266.1" r="2.95" fill="#34a050"/>
<circle cx="126.4" cy="274.7" r="2.95" fill="#34a050"/>
<circle cx="82.6" cy="266.6" r="2.95" fill="#bce490"/>
<circle cx="84.2" cy="270.7" r="2.95" fill="#b0e08c"/>
<circle cx="90.3" cy="272.7" r="2.95" fill="#74c474"/>
<circle cx="93.3" cy="275.2" r="2.95" fill="#68bc6c"/>
<circle cx="87.7" cy="274.7" r="2.95" fill="#84cc7c"/>
<circle cx="79.1" cy="276.3" r="2.95" fill="#c8ec98"/>
<circle cx="82.2" cy="266.2" r="2.95" fill="#bce490"/>
<circle cx="80.2" cy="276.4" r="2.95" fill="#c4e894"/>
<circle cx="78.1" cy="280.4" r="2.95" fill="#cced98"/>
<circle cx="77.1" cy="284.0" r="2.95" fill="#d0ee9c"/>
<circle cx="91.4" cy="276.9" r="2.95" fill="#7cc878"/>
<circle cx="104.6" cy="268.7" r="2.95" fill="#4cb05c"/>
<circle cx="175.3" cy="149.5" r="2.95" fill="#4cac5c"/>
<circle cx="178.3" cy="152.6" r="2.95" fill="#58b464"/>
<circle cx="182.9" cy="150.6" r="2.95" fill="#46a858"/>
<circle cx="197.2" cy="162.8" r="2.95" fill="#4c9c5c"/>
<circle cx="203.4" cy="167.9" r="2.95" fill="#4ca45c"/>
<circle cx="211.8" cy="174.5" r="2.95" fill="#5cac64"/>
<circle cx="201.4" cy="184.0" r="2.95" fill="#5cb868"/>
<circle cx="205.5" cy="186.0" r="2.95" fill="#34884c"/>
<circle cx="197.3" cy="187.5" r="2.95" fill="#52a860"/>
<circle cx="214.4" cy="186.0" r="2.95" fill="#0e5430"/>
<circle cx="191.2" cy="190.6" r="2.95" fill="#348c4c"/>
<circle cx="212.8" cy="193.1" r="2.95" fill="#3c9450"/>
<circle cx="217.2" cy="192.6" r="2.95" fill="#1e7440"/>
<circle cx="222.8" cy="197.2" r="2.95" fill="#4ca458"/>
<circle cx="225.8" cy="196.5" r="2.95" fill="#2e8c48"/>
<circle cx="188.1" cy="199.2" r="2.95" fill="#3c9c54"/>
<circle cx="193.8" cy="199.8" r="2.95" fill="#4cac5c"/>
<circle cx="195.3" cy="203.9" r="2.95" fill="#2a8844"/>
<circle cx="244.0" cy="209.8" r="2.95" fill="#1e7c40"/>
<circle cx="232.1" cy="214.8" r="2.95" fill="#1a6c3a"/>
<circle cx="237.2" cy="224.7" r="2.95" fill="#3c9450"/>
<circle cx="226.0" cy="230.6" r="2.95" fill="#1a6c3a"/>
<circle cx="203.2" cy="228.4" r="2.95" fill="#7cc078"/>
</g>
<polygon points="77.15,284.35 329.55,284.35 77.15,31.95" fill="none" stroke="#828282" stroke-width="1.0" stroke-linejoin="round"/>
<path d="M102.39,284.35v6M77.15,259.11h-6M127.63,284.35v6M77.15,233.87h-6M152.87,284.35v6M77.15,208.63h-6M178.11,284.35v6M77.15,183.39h-6M203.35,284.35v6M77.15,158.15h-6M228.59,284.35v6M77.15,132.91h-6M253.83,284.35v6M77.15,107.67h-6M279.07,284.35v6M77.15,82.43h-6M304.31,284.35v6M77.15,57.19h-6" stroke="#808080" stroke-width="0.8" fill="none"/>
<g font-size="9" font-weight="bold" fill="#2b2b2b">
<text x="69.6" y="262.3" text-anchor="end">10</text>
<text transform="translate(99.2,292.2) rotate(90)">10</text>
<text x="69.6" y="237.1" text-anchor="end">20</text>
<text transform="translate(124.4,292.2) rotate(90)">20</text>
<text x="69.6" y="211.8" text-anchor="end">30</text>
<text transform="translate(149.7,292.2) rotate(90)">30</text>
<text x="69.6" y="186.6" text-anchor="end">40</text>
<text transform="translate(174.9,292.2) rotate(90)">40</text>
<text x="69.6" y="161.4" text-anchor="end">50</text>
<text transform="translate(200.2,292.2) rotate(90)">50</text>
<text x="69.6" y="136.1" text-anchor="end">60</text>
<text transform="translate(225.4,292.2) rotate(90)">60</text>
<text x="69.6" y="110.9" text-anchor="end">70</text>
<text transform="translate(250.6,292.2) rotate(90)">70</text>
<text x="69.6" y="85.6" text-anchor="end">80</text>
<text transform="translate(275.9,292.2) rotate(90)">80</text>
<text x="69.6" y="60.4" text-anchor="end">90</text>
<text transform="translate(301.1,292.2) rotate(90)">90</text>
</g>
<text font-size="11" font-weight="bold" fill="#222" text-anchor="middle" transform="translate(47.3,158.2) rotate(-90)">Silt (%)</text>
<text font-size="11" font-weight="bold" fill="#222" text-anchor="middle" x="203.4" y="318.7">Clay (%)</text>
<text font-size="16" font-weight="bold" fill="#1a1a1a" x="39.6" y="35.2">c)</text>
</g>
<text x="186.2" y="50.8" font-size="11.15" fill="#262626">Vol. water content at pF 1.8</text>
<rect x="186.9" y="60" width="10.8" height="51" fill="url(#ga)"/>
<text x="208.5" y="68.6" font-size="9.2" fill="#333">67.3 %</text>
<text x="208.5" y="88.8" font-size="9.2" fill="#333">36.7 %</text>
<text x="208.5" y="109.0" font-size="9.2" fill="#333">6.0 %</text>
<text x="529.6" y="49.8" font-size="11.15" fill="#262626">Vol. water content at pF 4.2</text>
<rect x="530.4" y="59" width="10.8" height="52" fill="url(#gb)"/>
<text x="552.4" y="67.6" font-size="9.2" fill="#333">31.4 %</text>
<text x="552.4" y="87.8" font-size="9.2" fill="#333">16.7 %</text>
<text x="552.4" y="108.0" font-size="9.2" fill="#333">2.0 %</text>
<text x="852.8" y="47.6" font-size="11.15" fill="#262626">Plant available water content</text>
<rect x="852.9" y="56.5" width="10.8" height="51.7" fill="url(#gc)"/>
<text x="874.7" y="65.1" font-size="9.2" fill="#333">49.2 %</text>
<text x="874.7" y="85.3" font-size="9.2" fill="#333">26.5 %</text>
<text x="874.7" y="105.5" font-size="9.2" fill="#333">3.8 %</text>
</svg>
<div class="cap"><div class="j">Figure 6: Volumetric water contents at (a) field capacity, (b) the plant wilting point and (c) the resulting plant available water</div><div class="j">scattered on the soil texture triangle. The values provided in the data collection are calculated from retention curves described by</div><div>the PDI model.</div></div>
</body></html>
